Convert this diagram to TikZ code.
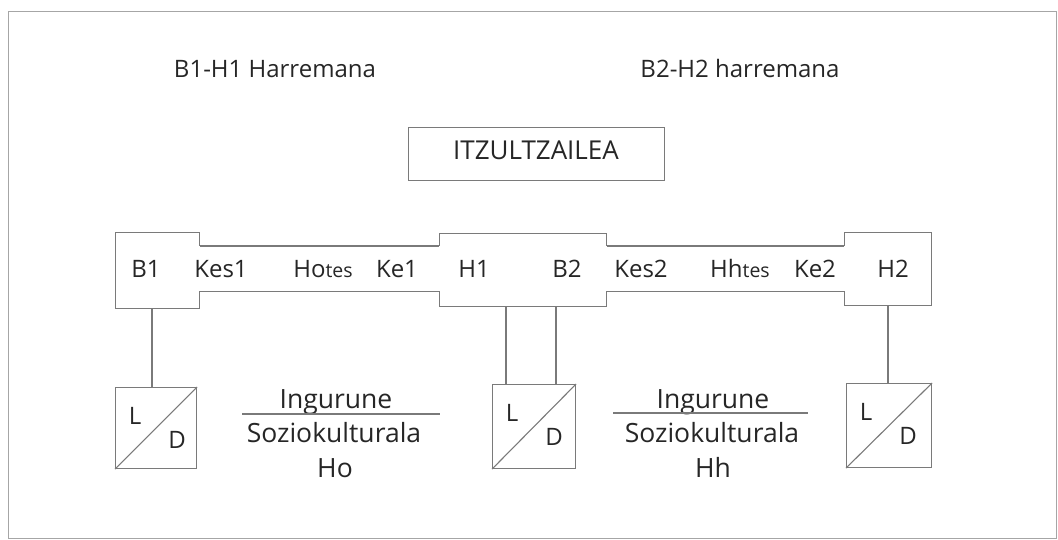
\documentclass[tikz,border=0pt]{standalone}
\usepackage{fontspec}
\setmainfont{Open Sans}
\usetikzlibrary{calc}
\begin{document}
\begin{tikzpicture}[x=1pt,y=-1pt,
  txt/.style={inner sep=0pt, anchor=base, text=black!85, font=\fontsize{24}{28}\selectfont},
  big/.style={txt, font=\fontsize{26.5}{30}\selectfont},
  ln/.style={draw=black!52, line width=1.1pt},
  box/.style={ln, fill=white, rectangle, inner sep=0pt},
  ldbox/.style={box, minimum width=83, minimum height=84},
  frame/.style={draw=black!35, line width=1pt}]
\useasboundingbox (0,0) rectangle (1058,540);
% outer frame
\node[frame, rectangle, inner sep=0pt, minimum width=1048, minimum height=527, anchor=north west] (frm) at (8,11) {};

% top labels
\node[txt] (rel1) at (275,78) {B1-H1 Harremana};
\node[txt] (rel2) at (740,78) {B2-H2 harremana};

% translator box
\node[box, minimum width=256, minimum height=53, anchor=north west] (itz) at (408,127) {};
\node[txt, font=\fontsize{26}{30}\selectfont] (itzt) at (536,160) {ITZULTZAILEA};

% main band boxes
\node[box, minimum width=84, minimum height=76, anchor=north west] (b1box) at (115,232) {};
\node[box, minimum width=167, minimum height=73, anchor=north west] (midbox) at (439,233) {};
\node[box, minimum width=87, minimum height=73, anchor=north west] (h2box) at (844,232) {};
% band
\node[rectangle, fill=white, inner sep=0pt, minimum width=648, minimum height=45, anchor=north west] (band) at (198,246) {};
\draw[ln] (b1box.east |- band.north) -- (midbox.west |- band.north);
\draw[ln] (b1box.east |- band.south) -- (midbox.west |- band.south);
\draw[ln] (midbox.east |- band.north) -- (h2box.west |- band.north);
\draw[ln] (midbox.east |- band.south) -- (h2box.west |- band.south);

% band texts
\node[txt] (tb1) at (146,277) {B1};
\node[txt] (tkes1) at (221,277) {Kes1};
\node[txt] (thot) at (323,277) {Ho{\fontsize{19.5}{22}\selectfont tes}};
\node[txt] (tke1) at (397,277) {Ke1};
\node[txt] (th1) at (474,277) {H1};
\node[txt] (tb2) at (567,277) {B2};
\node[txt] (tkes2) at (641,277) {Kes2};
\node[txt] (thht) at (740,277) {Hh{\fontsize{19.5}{22}\selectfont tes}};
\node[txt] (tke2) at (815,277) {Ke2};
\node[txt] (th2) at (893,277) {H2};

% L/D boxes
\node[ldbox, anchor=north west, minimum width=81, minimum height=81] (ld1) at (115,387) {};
\node[ldbox, anchor=north west] (ld2) at (492,384) {};
\node[ldbox, anchor=north west, minimum width=85] (ld3) at (846,383) {};
\foreach \b in {ld1,ld2,ld3}{
  \draw[ln] (\b.south west) -- (\b.north east);
  \node[txt, anchor=center] (\b L) at ($(\b.north west)+(20,29)$) {L};
  \node[txt, anchor=center] (\b D) at ($(\b.north west)+(62,53)$) {D};
}

% connectors
\coordinate (c1) at (152,0);
\coordinate (c2) at (506,0);
\coordinate (c3) at (556,0);
\coordinate (c4) at (888,0);
\draw[ln] (c1 |- b1box.south) -- (c1 |- ld1.north);
\draw[ln] (c2 |- midbox.south) -- (c2 |- ld2.north);
\draw[ln] (c3 |- midbox.south) -- (c3 |- ld2.north);
\draw[ln] (c4 |- h2box.south) -- (c4 |- ld3.north);

% sociocultural environments
\node[big] (ing1) at (336,408) {Ingurune};
\coordinate (f1w) at (242,414);
\coordinate (f1e) at (440,414);
\draw[ln] (f1w) -- (f1e);
\node[big] (soz1) at (334,442) {Soziokulturala};
\node[big] (ho1) at (335,477) {Ho};

\node[big] (ing2) at (713,408) {Ingurune};
\coordinate (f2w) at (613,413);
\coordinate (f2e) at (808,413);
\draw[ln] (f2w) -- (f2e);
\node[big] (soz2) at (712,442) {Soziokulturala};
\node[big] (hh2) at (713,477) {Hh};
\end{tikzpicture}
\end{document}
